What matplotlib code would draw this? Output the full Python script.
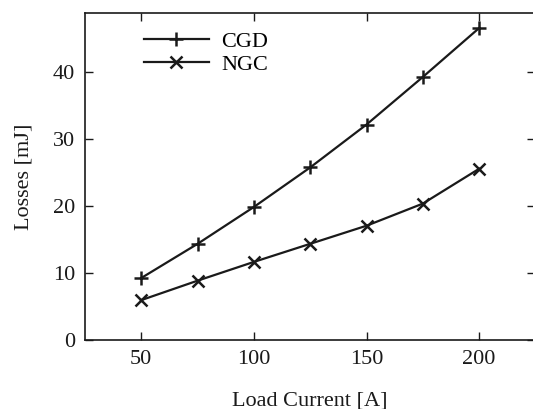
import matplotlib.pyplot as plt

# Data
load_current = [50, 75, 100, 125, 150, 175, 200]
cgd_losses = [9.3, 14.4, 19.9, 25.8, 32.2, 39.3, 46.6]
ngc_losses = [6.0, 8.9, 11.7, 14.4, 17.1, 20.4, 25.6]

plt.rcParams['font.family'] = ['Liberation Serif', 'DejaVu Serif']

fig = plt.figure(figsize=(5.33, 4.09), dpi=100)
ax = fig.add_axes([0.1595, 0.168, 0.845, 0.801])

ink = '#1a1a1a'
ax.plot(load_current, cgd_losses, color=ink, linewidth=1.6,
        marker='+', markersize=10, markeredgewidth=1.8, label='CGD')
ax.plot(load_current, ngc_losses, color=ink, linewidth=1.6,
        marker='x', markersize=9, markeredgewidth=1.8, label='NGC')

ax.set_xlim(25, 225)
ax.set_ylim(0, 48.9)
ax.set_xticks([50, 100, 150, 200])
ax.set_yticks([0, 10, 20, 30, 40])

ax.tick_params(direction='in', length=6, width=1, colors=ink,
               labelsize=16, top=True, right=True, pad=7)
for sp in ax.spines.values():
    sp.set_color(ink)
    sp.set_linewidth(1.2)

ax.set_xlabel('Load Current [A]', fontsize=16, color=ink, labelpad=16)
ax.set_ylabel('Losses [mJ]', fontsize=16, color=ink, labelpad=14)

ax.legend(loc='upper left', bbox_to_anchor=(0.097, 0.99), frameon=False,
          fontsize=16, handlelength=2.9, handletextpad=0.55,
          labelspacing=0.1, numpoints=1, borderaxespad=0.3)

fig.savefig('out.png', dpi=100)
